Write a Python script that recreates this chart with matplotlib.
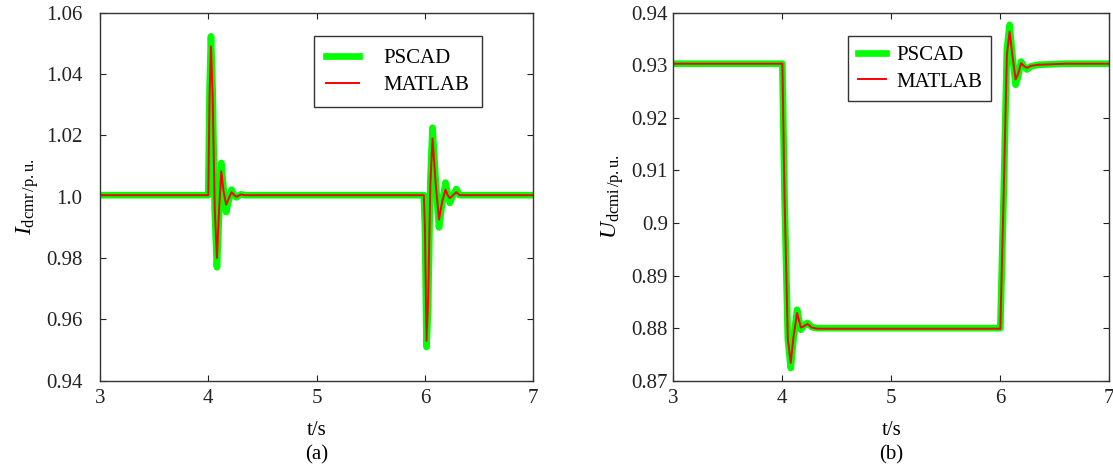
import matplotlib
matplotlib.use('Agg')
import matplotlib.pyplot as plt

plt.rcParams['font.family'] = ['Liberation Serif', 'DejaVu Serif']
plt.rcParams['mathtext.fontset'] = 'custom'
plt.rcParams['mathtext.rm'] = 'Liberation Serif'
plt.rcParams['mathtext.it'] = 'Liberation Serif:italic'

# (a) 直流电流 I_dcmr
t_a = [3.0, 4.0, 4.012, 4.025, 4.04, 4.06, 4.08, 4.1, 4.12, 4.14, 4.165, 4.19,
       4.215, 4.24, 4.26, 4.3, 4.34, 5.99, 6.0, 6.015, 6.03, 6.05, 6.07, 6.1,
       6.13, 6.16, 6.19, 6.21, 6.23, 6.26, 6.29, 6.32, 7.0]
i_pscad = [1.0005, 1.0005, 1.035, 1.0523, 1.035, 0.995, 0.977, 0.995, 1.011, 1.003,
           0.995, 0.999, 1.0023, 1.0005, 0.9998, 1.0008, 1.0005, 1.0005, 0.99, 0.951,
           0.965, 1.005, 1.0225, 1.005, 0.990, 0.998, 1.0046, 1.001, 0.998, 1.0005,
           1.0025, 1.0005, 1.0005]
i_matlab = [1.0005, 1.0005, 1.033, 1.049, 1.033, 0.996, 0.980, 0.996, 1.0083, 1.002,
            0.9974, 0.9995, 1.0015, 1.0005, 1.0, 1.0007, 1.0005, 1.0005, 0.99, 0.953,
            0.967, 1.004, 1.019, 1.004, 0.9925, 0.9985, 1.0023, 1.0005, 0.9995, 1.0005,
            1.0015, 1.0005, 1.0005]

# (b) 直流电压 U_dcmi
t_b = [3.0, 4.0, 4.02, 4.05, 4.077, 4.1, 4.135, 4.17, 4.2, 4.23, 4.27, 4.32,
       6.0, 6.03, 6.06, 6.085, 6.11, 6.14, 6.165, 6.19, 6.22, 6.245, 6.28, 6.35,
       6.6, 7.0]
u_pscad = [0.9303, 0.9303, 0.905, 0.878, 0.8724, 0.8775, 0.8835, 0.8797, 0.8805,
           0.8810, 0.8802, 0.8800, 0.8800, 0.905, 0.933, 0.9377, 0.932, 0.9263,
           0.928, 0.9307, 0.9297, 0.9292, 0.9298, 0.9301, 0.9303, 0.9303]
u_matlab = [0.9303, 0.9303, 0.905, 0.878, 0.8734, 0.878, 0.8829, 0.8801, 0.8804,
            0.8808, 0.8801, 0.8799, 0.8799, 0.905, 0.932, 0.9364, 0.932, 0.9273,
            0.9285, 0.9304, 0.9298, 0.9295, 0.9299, 0.9301, 0.9303, 0.9303]

x_ticks = [3, 4, 5, 6, 7]
ya_ticks = [0.94, 0.96, 0.98, 1.0, 1.02, 1.04, 1.06]
ya_labels = ['0.94', '0.96', '0.98', '1.0', '1.02', '1.04', '1.06']
yb_ticks = [0.87, 0.88, 0.89, 0.9, 0.91, 0.92, 0.93, 0.94]
yb_labels = ['0.87', '0.88', '0.89', '0.9', '0.91', '0.92', '0.93', '0.94']

fig = plt.figure(figsize=(11.13, 4.68), dpi=100)
ax1 = fig.add_axes([0.0898, 0.1865, 0.3893, 0.7863])
ax2 = fig.add_axes([0.605, 0.1865, 0.3917, 0.7863])


def style_axes(ax, ylim, yticks, ylabels, ypad):
    ax.set_xlim(3, 7)
    ax.set_ylim(*ylim)
    ax.set_xticks(x_ticks)
    ax.set_yticks(yticks)
    ax.set_yticklabels(ylabels)
    ax.tick_params(direction='in', top=True, right=True, length=4.5,
                   width=0.8, labelsize=15, colors='#222222')
    ax.tick_params(axis='y', pad=ypad)
    ax.tick_params(axis='x', pad=6)
    for s in ax.spines.values():
        s.set_color('#333333')
        s.set_linewidth(1.0)
    ax.set_xlabel('t/s', fontsize=15, labelpad=9)


ax1.plot(t_a, i_pscad, color='#00ff00', lw=4.8, label='PSCAD')
ax1.plot(t_a, i_matlab, color='#ff0000', lw=1.4, label='MATLAB')
style_axes(ax1, (0.94, 1.06), ya_ticks, ya_labels, 12.5)
ax1.set_ylabel(r'$I_{\mathrm{dcmr}\,\mathrm{/p.u.}}$', fontsize=17, labelpad=4)
ax1.legend(loc='upper left', bbox_to_anchor=(0.494, 0.937), fontsize=15,
           frameon=True, fancybox=False, framealpha=1, edgecolor='#333333',
           borderpad=0.6, handlelength=1.55, handletextpad=1.2,
           labelspacing=0.35, borderaxespad=0)

ax2.plot(t_b, u_pscad, color='#00ff00', lw=4.8, label='PSCAD')
ax2.plot(t_b, u_matlab, color='#ff0000', lw=1.4, label='MATLAB')
style_axes(ax2, (0.87, 0.94), yb_ticks, yb_labels, 4)
ax2.set_ylabel(r'$U_{\mathrm{dcmi}\,\mathrm{/p.u.}}$', fontsize=17, labelpad=4)
ax2.legend(loc='upper left', bbox_to_anchor=(0.401, 0.937), fontsize=15,
           frameon=True, fancybox=False, framealpha=1, edgecolor='#333333',
           borderpad=0.45, handlelength=1.35, handletextpad=0.5,
           labelspacing=0.35, borderaxespad=0)

fig.text(0.0898 + 0.3893 / 2, 0.028, '(a)', ha='center', va='center', fontsize=15)
fig.text(0.605 + 0.3917 / 2, 0.028, '(b)', ha='center', va='center', fontsize=15)

fig.savefig('out.png', dpi=100)
